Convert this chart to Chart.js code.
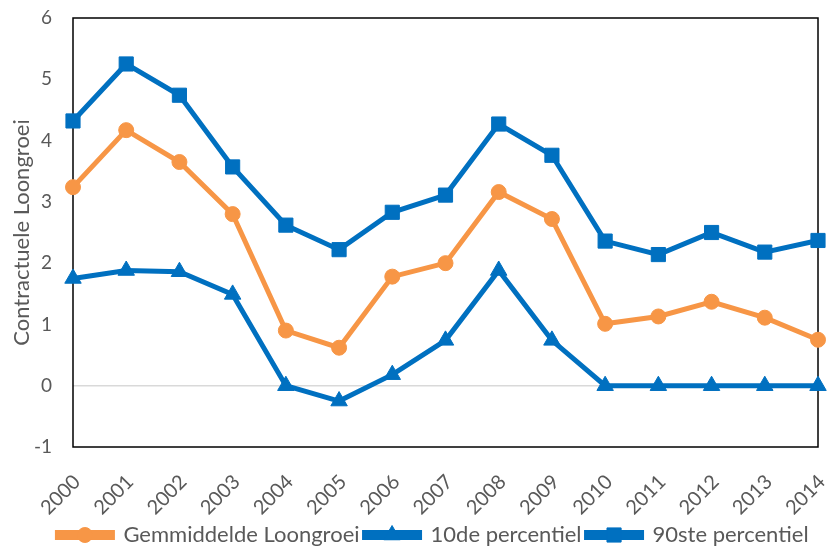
<!DOCTYPE html>
<html>
<head>
<meta charset="utf-8">
<script src="https://cdn.jsdelivr.net/npm/chart.js@4.4.1/dist/chart.umd.min.js"></script>
<style>
  html, body { margin: 0; padding: 0; background: #fff; }
  #wrap { width: 829px; height: 546px; }
</style>
</head>
<body>
<div id="wrap"><canvas id="c" width="829" height="546"></canvas></div>
<script>
const years = ['2000','2001','2002','2003','2004','2005','2006','2007','2008','2009','2010','2011','2012','2013','2014'];
const gemiddelde = [3.24, 4.17, 3.65, 2.80, 0.90, 0.62, 1.78, 2.00, 3.16, 2.72, 1.01, 1.13, 1.37, 1.11, 0.75];
const p10 = [1.75, 1.88, 1.86, 1.49, 0.00, -0.25, 0.18, 0.74, 1.88, 0.74, 0.00, 0.00, 0.00, 0.00, 0.00];
const p90 = [4.32, 5.25, 4.74, 3.57, 2.62, 2.22, 2.83, 3.11, 4.27, 3.76, 2.36, 2.14, 2.50, 2.18, 2.37];

const ORANGE = '#F79646';
const BLUE = '#0070C0';
const GREY = '#595959';
const FONT = 'Lato, "Open Sans", sans-serif';

// frame around the plot area
const framePlugin = {
  id: 'frame',
  beforeDatasetsDraw(chart) {
    const a = chart.chartArea, ctx = chart.ctx;
    ctx.save();
    ctx.strokeStyle = '#000';
    ctx.lineWidth = 1.5;
    ctx.strokeRect(a.left, a.top, a.right - a.left, a.bottom - a.top);
    ctx.restore();
  }
};

// nudge the legend row a little right and down, and let the
// rotated year labels run past the x-axis box without clipping
const layoutTweaks = {
  id: 'layoutTweaks',
  afterLayout(chart) {
    const lg = chart.legend;
    if (lg) {
      lg.left += 22; lg.right += 22;
      lg.top += 10; lg.bottom += 10;
    }
    chart.scales.x.bottom = chart.height;
  }
};

// put each series' marker on top of its legend line
const legendMarkers = {
  id: 'legendMarkers',
  afterDraw(chart) {
    const lg = chart.legend;
    if (!lg || !lg.legendHitBoxes) return;
    const ctx = chart.ctx;
    const bw = lg.options.labels.boxWidth;
    lg.legendHitBoxes.forEach((hb, i) => {
      const ds = chart.data.datasets[i];
      const cx = hb.left + bw / 2;
      const cy = hb.top + hb.height / 2;
      ctx.save();
      ctx.fillStyle = ds.pointBackgroundColor;
      ctx.strokeStyle = ds.pointBorderColor;
      Chart.helpers.drawPoint(ctx, {
        pointStyle: ds.pointStyle,
        radius: ds.pointRadius,
        rotation: 0,
        borderWidth: 1
      }, cx, cy);
      ctx.restore();
    });
  }
};

function series(label, data, color, style, radius) {
  return {
    label, data,
    borderColor: color,
    backgroundColor: color,
    pointBackgroundColor: color,
    pointBorderColor: color,
    pointStyle: style,
    pointRadius: radius,
    pointBorderWidth: 1,
    borderWidth: 5,
    tension: 0,
    clip: false
  };
}

new Chart(document.getElementById('c'), {
  type: 'line',
  data: {
    labels: years,
    datasets: [
      series('Gemmiddelde Loongroei', gemiddelde, ORANGE, 'circle', 7.5),
      series('10de percentiel', p10, BLUE, 'triangle', 9.5),
      series('90ste percentiel', p90, BLUE, 'rect', 10)
    ]
  },
  options: {
    responsive: false,
    animation: false,
    layout: { padding: { left: 0, right: 7, top: 18, bottom: 0 } },
    plugins: {
      tooltip: { enabled: false },
      legend: {
        position: 'bottom',
        labels: {
          boxWidth: 55,
          boxHeight: 5,
          padding: 5,
          color: GREY,
          font: { family: FONT, size: 22 }
        }
      }
    },
    scales: {
      x: {
        offset: false,
        grid: { display: false, drawTicks: false },
        border: { display: false },
        ticks: {
          autoSkip: false,
          maxRotation: 45,
          minRotation: 45,
          padding: 23,
          labelOffset: 4,
          color: GREY,
          font: { family: FONT, size: 20 }
        },
        afterFit(s) { s.height = 62; s.paddingLeft = 0; s.paddingRight = 0; }
      },
      y: {
        min: -1,
        max: 6,
        grid: {
          drawTicks: false,
          color: ctx => ctx.tick && ctx.tick.value === 0 ? '#d9d9d9' : 'rgba(0,0,0,0)',
          lineWidth: 1.5
        },
        border: { display: false },
        ticks: {
          stepSize: 1,
          padding: 21,
          color: GREY,
          font: { family: FONT, size: 19 }
        },
        title: {
          display: true,
          text: 'Contractuele Loongroei',
          color: GREY,
          padding: { top: 9, bottom: 0 },
          font: { family: FONT, size: 22 }
        },
        afterFit(s) { s.width = 73; s.paddingTop = 0; s.paddingBottom = 0; }
      }
    }
  },
  plugins: [framePlugin, layoutTweaks, legendMarkers]
});
</script>
</body>
</html>
